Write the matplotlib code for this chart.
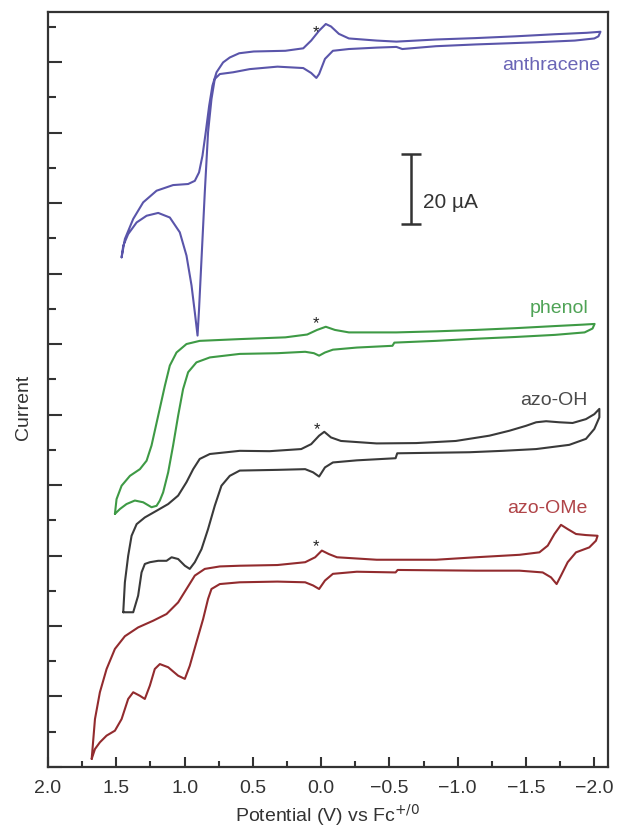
import numpy as np
import matplotlib
matplotlib.use("Agg")
from matplotlib import pyplot as plt
from matplotlib.ticker import MultipleLocator

# cyclic voltammograms: potential (V vs Fc+/0) and current (uA, offset for stacking)
# each loop: scan towards negative potential (upper trace), then back (lower trace)
anthracene_v = [1.461, 1.437, 1.376, 1.303, 1.205, 1.084, 0.974, 0.925, 0.894, 0.869, 0.845,
                0.820, 0.796, 0.766, 0.718, 0.669, 0.600, 0.494, 0.262, 0.131, 0.073, 0.015,
                -0.034, -0.072, -0.130, -0.203, -0.406, -0.551, -0.841, -1.131, -1.421, -1.712,
                -1.944, -2.045,
                -2.030, -2.000, -1.857, -1.566, -1.131, -0.841, -0.594, -0.551, -0.406, -0.203,
                -0.086, -0.028, 0.015, 0.035, 0.073, 0.131, 0.320, 0.523, 0.645, 0.742, 0.779,
                0.803, 0.828, 0.852, 0.876, 0.894, 0.905, 0.925, 0.949, 0.986, 1.035, 1.108,
                1.193, 1.278, 1.351, 1.413, 1.449, 1.461]
anthracene_i = [144.6, 149.8, 155.5, 160.2, 163.5, 165.1, 165.4, 166.3, 168.7, 173.4, 180.1,
                187.6, 193.3, 197.1, 199.9, 201.3, 202.5, 203.0, 203.2, 203.9, 206.1, 208.9,
                210.8, 210.1, 208.0, 206.7, 206.1, 205.8, 206.4, 206.8, 207.3, 207.9,
                208.3, 208.6,
                207.3, 206.7, 206.1, 205.6, 205.0, 204.5, 203.7, 204.3, 204.1, 203.7,
                203.2, 200.9, 196.6, 195.5, 196.9, 198.3, 198.7, 198.0, 197.1, 196.6, 195.2,
                189.5, 180.1, 163.0, 144.1, 129.9, 122.4, 129.0, 136.6, 145.1, 151.7, 155.9,
                157.2, 156.4, 154.5, 151.2, 147.9, 144.6]

phenol_v = [1.510, 1.498, 1.461, 1.400, 1.327, 1.278, 1.242, 1.193, 1.144, 1.108, 1.059, 0.986,
            0.889, 0.596, 0.262, 0.102, 0.030, -0.034, -0.101, -0.203, -0.551, -0.841, -1.131,
            -1.421, -1.712, -1.915, -2.002,
            -1.987, -1.929, -1.712, -1.421, -1.131, -0.841, -0.536, -0.522, -0.261, -0.086,
            -0.028, 0.015, 0.053, 0.117, 0.320, 0.596, 0.815, 0.913, 0.974, 1.011, 1.047,
            1.084, 1.120, 1.157, 1.181, 1.205, 1.242, 1.303, 1.364, 1.425, 1.473, 1.510]
phenol_i = [71.8, 76.0, 79.8, 82.6, 84.5, 86.9, 91.2, 99.7, 108.2, 113.9, 117.6, 120.0,
            120.9, 121.4, 121.9, 122.7, 124.0, 124.9, 124.0, 123.3, 123.3, 123.6, 124.0,
            124.5, 125.1, 125.5, 125.7,
            124.4, 123.3, 122.6, 122.0, 121.5, 120.9, 120.4, 119.5, 119.0, 118.4,
            117.6, 116.7, 117.4, 117.8, 117.4, 117.2, 116.2, 114.8, 112.0, 107.2, 99.7,
            91.2, 83.6, 77.9, 75.6, 74.1, 73.7, 75.1, 75.6, 74.6, 73.2, 71.8]

azo_oh_v = [1.449, 1.437, 1.413, 1.388, 1.351, 1.291, 1.205, 1.120, 1.047, 0.986, 0.937, 0.889,
            0.815, 0.596, 0.378, 0.146, 0.073, 0.015, -0.023, -0.072, -0.145, -0.406, -0.696,
            -0.986, -1.232, -1.378, -1.500, -1.574, -1.647, -1.744, -1.841, -1.939, -2.000,
            -2.037,
            -2.037, -2.000, -1.939, -1.817, -1.574, -1.330, -1.086, -0.557, -0.545, -0.261,
            -0.086, -0.028, 0.015, 0.059, 0.117, 0.320, 0.596, 0.669, 0.730, 0.779, 0.828,
            0.876, 0.925, 0.962, 0.998, 1.047, 1.095, 1.132, 1.193, 1.254, 1.291, 1.315,
            1.340, 1.376, 1.449]
azo_oh_i = [43.9, 52.4, 59.9, 65.6, 68.9, 70.8, 72.7, 74.6, 77.0, 80.8, 84.5, 87.4,
            88.8, 89.7, 89.6, 90.2, 91.6, 94.0, 95.1, 93.5, 92.5, 91.8, 91.9,
            92.5, 94.0, 95.4, 96.8, 97.8, 98.1, 97.8, 97.6, 98.7, 100.1,
            101.6,
            99.2, 95.9, 93.1, 91.4, 90.2, 89.7, 89.3, 89.0, 87.6, 87.0,
            86.4, 85.0, 82.4, 83.6, 84.5, 84.3, 84.1, 82.6, 79.8, 74.1, 67.5,
            61.8, 58.1, 56.2, 57.1, 59.0, 59.5, 58.5, 58.5, 58.1, 57.6, 55.2,
            48.6, 43.9, 43.9]

azo_ome_v = [1.680, 1.656, 1.620, 1.571, 1.510, 1.437, 1.340, 1.230, 1.132, 1.047, 0.986, 0.925,
             0.852, 0.742, 0.596, 0.320, 0.117, 0.044, -0.005, -0.057, -0.116, -0.406, -0.841,
             -1.131, -1.452, -1.598, -1.659, -1.708, -1.756, -1.805, -1.866, -1.939, -2.024,
             -2.012, -1.963, -1.866, -1.805, -1.756, -1.724, -1.683, -1.622, -1.452, -1.131,
             -0.560, -0.545, -0.261, -0.086, -0.028, 0.015, 0.059, 0.117, 0.320, 0.596, 0.742,
             0.803, 0.828, 0.864, 0.913, 0.962, 0.998, 1.047, 1.120, 1.181, 1.218, 1.254,
             1.291, 1.327, 1.376, 1.413, 1.461, 1.510, 1.571, 1.620, 1.656, 1.680]
azo_ome_i = [2.3, 13.6, 21.2, 27.8, 33.5, 37.1, 39.6, 41.5, 43.4, 46.7, 50.5, 54.3,
             56.2, 56.9, 57.1, 57.3, 58.1, 59.5, 61.4, 60.4, 59.5, 58.8, 58.8,
             59.5, 60.2, 60.9, 62.8, 66.1, 68.7, 67.5, 66.1, 65.8, 65.6,
             64.2, 62.3, 60.9, 58.1, 54.3, 51.9, 53.8, 55.2, 55.7, 55.7,
             55.9, 55.2, 55.4, 54.8, 52.9, 50.5, 51.5, 52.4, 52.6, 52.4, 51.9,
             50.5, 47.7, 42.0, 35.4, 28.7, 25.0, 25.9, 28.3, 29.2, 27.8, 23.1,
             19.3, 20.2, 21.2, 19.3, 13.6, 10.3, 8.9, 7.0, 5.1, 2.3]

names = ["anthracene", "phenol", "azo-OH", "azo-OMe"]
line_colors = ["#5a55aa", "#3e9a45", "#3a3a3a", "#922b2e"]
text_colors = ["#6a65b6", "#4fa356", "#4a4a4a", "#b04448"]
label_pos = [(-2.044, 199.2), (-1.956, 130.5), (-1.949, 104.4), (-1.949, 73.6)]
star_pos = [(0.04, 208.6), (0.04, 126.0), (0.03, 95.9), (0.04, 62.8)]

plt.rcParams['font.family'] = ['Liberation Sans', 'DejaVu Sans']
dark = '#333333'

fig = plt.figure(figsize=(6.2, 8.29), dpi=100)
ax = fig.add_axes([0.0774, 0.0736, 0.9032, 0.9107])

curves = [(anthracene_v, anthracene_i), (phenol_v, phenol_i),
          (azo_oh_v, azo_oh_i), (azo_ome_v, azo_ome_i)]
for (v, i), c in zip(curves, line_colors):
    ax.plot(v, i, color=c, lw=1.5, solid_joinstyle='round', solid_capstyle='round')

for name, (x, y), c in zip(names, label_pos, text_colors):
    ax.text(x, y, name, color=c, fontsize=14, ha='right', va='center')
for x, y in star_pos:
    ax.text(x, y, '*', color='#222222', fontsize=12, ha='center', va='center')

# 20 uA scale bar
ax.errorbar([-0.66], [164], yerr=[[10], [10]], color=dark, lw=1.8,
            capsize=7, capthick=1.8)
ax.text(-0.745, 160.5, '20 µA', fontsize=15, color=dark, ha='left', va='center')

ax.set_xlim(2.0, -2.1)
ax.set_ylim(0, 214.2)
ax.xaxis.set_major_locator(MultipleLocator(0.5))
ax.xaxis.set_minor_locator(MultipleLocator(0.25))
ax.yaxis.set_major_locator(MultipleLocator(20))
ax.yaxis.set_minor_locator(MultipleLocator(10))
ax.tick_params(axis='x', which='major', direction='in', length=7, width=1.5,
               labelsize=14, colors=dark, pad=9, top=False)
ax.tick_params(axis='x', which='minor', direction='in', length=4, width=1.5,
               colors=dark, top=False)
ax.tick_params(axis='y', which='major', direction='in', length=10, width=1.5,
               colors=dark, right=False, labelleft=False)
ax.tick_params(axis='y', which='minor', direction='in', length=6, width=1.5,
               colors=dark, right=False, labelleft=False)
for s in ax.spines.values():
    s.set_linewidth(1.6)
    s.set_color(dark)

ax.set_xlabel(r'Potential (V) vs Fc$^{+/0}$', fontsize=14, color=dark, labelpad=3)
ax.set_ylabel('Current', fontsize=14, color=dark)
ax.yaxis.set_label_coords(-0.028, 0.477)

fig.savefig('out.png', dpi=100)
